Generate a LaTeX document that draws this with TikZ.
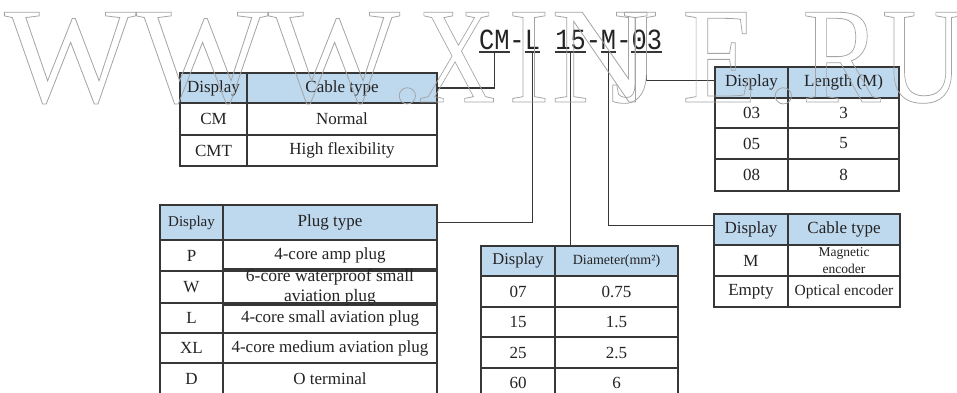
\documentclass[tikz,border=0pt]{standalone}
\usepackage{fontspec}
\usepackage{graphicx}
\setmainfont{Liberation Serif}
\newfontfamily\codefont{Liberation Mono}
\definecolor{hdr}{RGB}{190,216,238}
\definecolor{linec}{RGB}{55,55,55}
\definecolor{txt}{RGB}{35,35,35}
\definecolor{wm}{RGB}{165,165,165}
\newcommand\mycell[7][]{\node[cellbox,#1,minimum width={(#4-#2)*1pt},minimum height={(#5-#3)*1pt}] (#6) at ({(#2+#4)/2},{(#3+#5)/2}) {#7};}
\newcommand\wmglyph[1]{\fontsize{137}{137}\selectfont\special{pdf:literal direct 1 Tr 0.8 w}#1\special{pdf:literal direct 0 Tr}}
\tikzset{
  cellbox/.style={draw=linec, line width=1.3pt, inner sep=0pt, align=center, text=txt,
    font=\fontsize{17}{20}\selectfont},
  hdrcell/.style={fill=hdr},
  codeseg/.style={font=\codefont\fontsize{25.4}{26}\selectfont, inner sep=0pt, anchor=base, text=txt},
  conn/.style={draw=linec, line width=1.4pt},
  uline/.style={draw=linec, line width=1.2pt},
  wmtext/.style={anchor=base west, inner sep=0pt, text=wm}
}
\begin{document}
\begin{tikzpicture}[x=1pt,y=-1pt]
\useasboundingbox[fill=white] (0,0) rectangle (957,392);

% ---- code string ----
\node[codeseg] (sCM) at (494.25,49) {\scalebox{1}[1.15]{CM}};
\node[codeseg] (d1)  at (517.1,49)  {\scalebox{1}[1.15]{-}};
\node[codeseg] (sL)  at (532.4,49)  {\scalebox{1}[1.15]{L}};
\node[codeseg] (s15) at (570.5,49)  {\scalebox{1}[1.15]{15}};
\node[codeseg] (d2)  at (593.4,49)  {\scalebox{1}[1.15]{-}};
\node[codeseg] (sM)  at (608.6,49)  {\scalebox{1}[1.15]{M}};
\node[codeseg] (d3)  at (623.9,49)  {\scalebox{1}[1.15]{-}};
\node[codeseg] (s03) at (646.75,49) {\scalebox{1}[1.15]{03}};
\foreach \s in {sCM,sL,s15,sM,s03}{
  \draw[uline] ([yshift=-3pt]\s.base west) -- ([yshift=-3pt]\s.base east);
  \coordinate (u\s) at ([yshift=-3pt]\s.base);
}

% ---- table 1: cable type ----
\mycell[hdrcell]{180}{73}{247}{103}{t1a}{Display}
\mycell[hdrcell]{247}{73}{437}{103}{t1b}{Cable type}
\mycell{180}{103}{247}{135}{t1c}{CM}
\mycell{247}{103}{437}{135}{t1d}{Normal}
\mycell{180}{135}{247}{166}{t1e}{CMT}
\mycell{247}{135}{437}{166}{t1f}{High flexibility}

% ---- table 2: length ----
\mycell[hdrcell]{715}{67}{788}{98}{t2a}{Display}
\mycell[hdrcell]{788}{67}{899}{98}{t2b}{Length (M)}
\mycell{715}{98}{788}{128}{t2c}{03}
\mycell{788}{98}{899}{128}{t2d}{3}
\mycell{715}{128}{788}{159}{t2e}{05}
\mycell{788}{128}{899}{159}{t2f}{5}
\mycell{715}{159}{788}{191}{t2g}{08}
\mycell{788}{159}{899}{191}{t2h}{8}

% ---- table 3: plug type ----
\mycell[hdrcell,font=\fontsize{15}{18}\selectfont]{160}{205}{223}{240}{t3a}{Display}
\mycell[hdrcell]{223}{205}{437}{240}{t3b}{Plug type}
\mycell{160}{240}{223}{271}{t3c}{P}
\mycell{223}{240}{437}{271}{t3d}{4-core amp plug}
\mycell{160}{271}{223}{303}{t3e}{W}
\mycell[font=\fontsize{17.5}{20}\selectfont]{223}{271}{437}{303}{t3f}{6-core waterproof small\\aviation plug}
\mycell{160}{303}{223}{333}{t3g}{L}
\mycell{223}{303}{437}{333}{t3h}{4-core small aviation plug}
\mycell{160}{333}{223}{363}{t3i}{XL}
\mycell{223}{333}{437}{363}{t3j}{4-core medium aviation plug}
\mycell{160}{363}{223}{395}{t3k}{D}
\mycell{223}{363}{437}{395}{t3l}{O terminal}

% ---- table 4: diameter ----
\mycell[hdrcell,font=\fontsize{16.5}{18}\selectfont]{481}{246}{555}{276}{t4a}{Display}
\mycell[hdrcell,font=\fontsize{14}{16}\selectfont]{555}{246}{678}{276}{t4b}{Diameter(mm²)}
\mycell{481}{276}{555}{307}{t4c}{07}
\mycell{555}{276}{678}{307}{t4d}{0.75}
\mycell{481}{307}{555}{337}{t4e}{15}
\mycell{555}{307}{678}{337}{t4f}{1.5}
\mycell{481}{337}{555}{368}{t4g}{25}
\mycell{555}{337}{678}{368}{t4h}{2.5}
\mycell{481}{368}{555}{398}{t4i}{60}
\mycell{555}{368}{678}{398}{t4j}{6}

% ---- table 5: encoder ----
\mycell[hdrcell]{714}{214}{788}{245}{t5a}{Display}
\mycell[hdrcell]{788}{214}{900}{245}{t5b}{Cable type}
\mycell{714}{245}{788}{276}{t5c}{M}
\mycell[font=\fontsize{13.5}{17}\selectfont]{788}{245}{900}{276}{t5d}{Magnetic\\encoder}
\mycell{714}{276}{788}{307}{t5e}{Empty}
\mycell[font=\fontsize{15.5}{18}\selectfont]{788}{276}{900}{307}{t5f}{Optical encoder}

% ---- connectors ----
\draw[conn] (usCM) |- (t1b.east);
\draw[conn] (usL) |- (t3b.east);
\draw[conn] (us15) -- (us15 |- t4b.north);
\draw[conn] (usM) |- ([yshift=4pt]t5a.west);
\draw[conn] (us03) |- ([yshift=2pt]t2a.west);

% ---- watermark ----
\foreach \ch/\xx/\sc [count=\i] in {W/4/1.02, W/136/1.02, W/268/1.02, ./390/1.0, X/418/0.78,
    I/508/0.9, N/551/1.0, J/610/0.9, E/682/0.9, ./766/1.0, R/802/0.86, U/882/0.82}{
  \node[wmtext] (wm\i) at (\xx,102) {\scalebox{\sc}[1]{\wmglyph{\ch}}};
}
\end{tikzpicture}
\end{document}
